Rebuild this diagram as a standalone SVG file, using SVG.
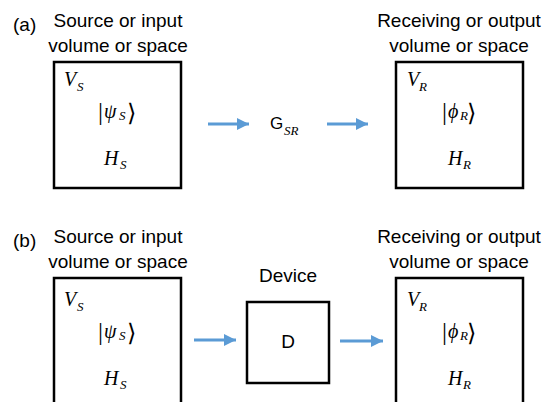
<svg xmlns="http://www.w3.org/2000/svg" width="545" height="402" viewBox="0 0 545 402">
<defs>
<style>
.lbl{font-family:"Liberation Sans",Arial,sans-serif;font-size:19px;fill:#000}
.box{fill:#fff;stroke:#000;stroke-width:2.5}
.m{font-family:"Liberation Serif","Times New Roman",serif;font-style:italic;font-size:20px;fill:#000}
.sub{font-family:"Liberation Serif","Times New Roman",serif;font-style:italic;font-size:13px;fill:#000}
.bar{font-family:"Liberation Serif","Times New Roman",serif;font-size:25px;fill:#000}
.br{font-family:"DejaVu Serif","DejaVu Sans",serif;font-size:24px;font-weight:300;fill:#000}
.g{font-family:"Liberation Sans",Arial,sans-serif;font-size:17px;fill:#000}
.arr{stroke:#5B9BD5;stroke-width:3;fill:none}
</style>
<marker id="ah" viewBox="0 0 10 10" refX="10" refY="5" markerWidth="4" markerHeight="4" markerUnits="strokeWidth" orient="auto">
<path d="M0,0 L10,5 L0,10 z" fill="#5B9BD5"/>
</marker>
</defs>
<rect width="545" height="402" fill="#fff"/>

<g id="panel-a-label"><text class="lbl" x="13" y="31">(a)</text></g>

<g id="a-source">
<text class="lbl" x="118" y="27" text-anchor="middle">Source or input</text>
<text class="lbl" x="118" y="52" text-anchor="middle">volume or space</text>
<rect class="box" x="54" y="62" width="127" height="126"/>
<text class="m" x="64" y="86">V</text><text class="sub" x="77" y="91">S</text>
<text class="bar" x="98" y="120">|</text><text class="m" x="104" y="118">ψ</text><text class="sub" x="119" y="120">S</text><text class="br" x="127" y="121">⟩</text>
<text class="m" x="104" y="165">H</text><text class="sub" x="120" y="169">S</text>
</g>

<g id="a-gsr">
<text class="g" x="270" y="129">G</text><text class="sub" x="284" y="135">SR</text>
</g>

<g id="a-receiver">
<text class="lbl" x="459" y="27" text-anchor="middle">Receiving or output</text>
<text class="lbl" x="459" y="52" text-anchor="middle">volume or space</text>
<rect class="box" x="396" y="62" width="127" height="126"/>
<text class="m" x="407" y="86">V</text><text class="sub" x="419" y="91">R</text>
<text class="bar" x="442" y="120">|</text><text class="m" x="448" y="118">ϕ</text><text class="sub" x="460" y="120">R</text><text class="br" x="467" y="121">⟩</text>
<text class="m" x="448" y="165">H</text><text class="sub" x="463" y="169">R</text>
</g>

<g id="panel-b-label"><text class="lbl" x="13" y="247">(b)</text></g>

<g id="b-source">
<text class="lbl" x="118" y="243" text-anchor="middle">Source or input</text>
<text class="lbl" x="118" y="268" text-anchor="middle">volume or space</text>
<rect class="box" x="54" y="278" width="127" height="140"/>
<text class="m" x="64" y="306">V</text><text class="sub" x="77" y="311">S</text>
<text class="bar" x="98" y="340">|</text><text class="m" x="104" y="338">ψ</text><text class="sub" x="119" y="340">S</text><text class="br" x="127" y="341">⟩</text>
<text class="m" x="104" y="385">H</text><text class="sub" x="120" y="389">S</text>
</g>

<g id="b-device">
<text class="lbl" x="288" y="282" text-anchor="middle">Device</text>
<rect class="box" x="247" y="302" width="82" height="81"/>
<text class="lbl" x="288" y="348" text-anchor="middle">D</text>
</g>

<g id="b-receiver">
<text class="lbl" x="459" y="243" text-anchor="middle">Receiving or output</text>
<text class="lbl" x="459" y="268" text-anchor="middle">volume or space</text>
<rect class="box" x="396" y="278" width="127" height="140"/>
<text class="m" x="407" y="306">V</text><text class="sub" x="419" y="311">R</text>
<text class="bar" x="442" y="340">|</text><text class="m" x="448" y="338">ϕ</text><text class="sub" x="460" y="340">R</text><text class="br" x="467" y="341">⟩</text>
<text class="m" x="448" y="385">H</text><text class="sub" x="463" y="389">R</text>
</g>

<g id="connectors">
<line class="arr" x1="208" y1="124" x2="249" y2="124" marker-end="url(#ah)"/>
<line class="arr" x1="327" y1="124" x2="368" y2="124" marker-end="url(#ah)"/>
<line class="arr" x1="194" y1="340" x2="236" y2="340" marker-end="url(#ah)"/>
<line class="arr" x1="340" y1="341" x2="383" y2="341" marker-end="url(#ah)"/>
</g>
</svg>
